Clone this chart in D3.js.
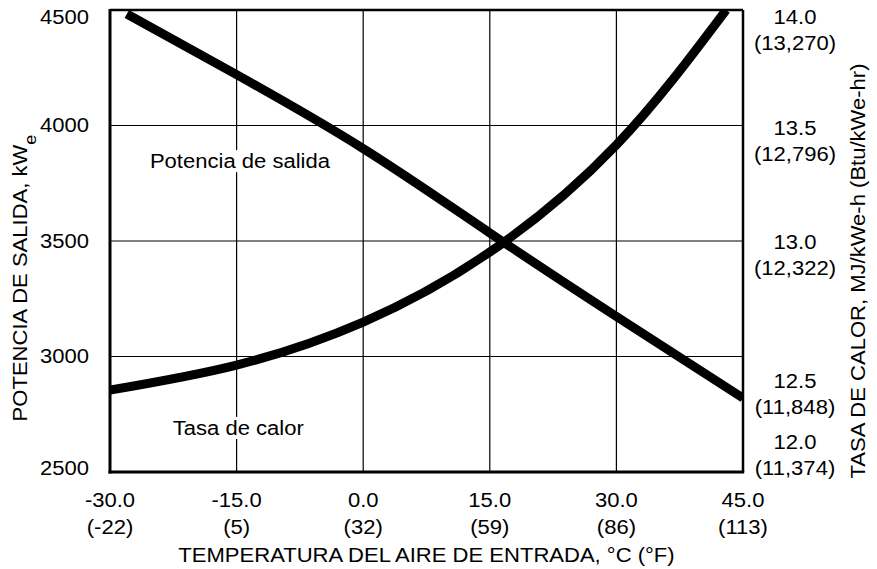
<!DOCTYPE html>
<html>
<head>
<meta charset="utf-8">
<script src="https://cdn.jsdelivr.net/npm/d3@7"></script>
<style>
  body { margin: 0; background: #fff; }
  svg text { font-family: "Liberation Sans", Arial, Helvetica, sans-serif; fill: #000; }
</style>
</head>
<body>
<div id="chart"></div>
<script>
// data
var tempC = [-28, -15, 0, 15, 30, 45];
var power = [4483, 4220, 3900, 3535, 3173, 2820];

var tempHR = [-30, -15, 0, 15, 30, 43];
var heatRate = [12.355, 12.463, 12.649, 12.952, 13.416, 14.0];

var xTicks = [-30, -15, 0, 15, 30, 45];
var xTicksF = ["(-22)", "(5)", "(32)", "(59)", "(86)", "(113)"];
var leftTicks = [2500, 3000, 3500, 4000, 4500];
var rightTicks = [12.0, 12.5, 13.0, 13.5, 14.0];
var rightTicksBtu = ["(11,374)", "(11,848)", "(12,322)", "(12,796)", "(13,270)"];

// the lettering in the picture is a bit wider than Liberation Sans
var STRETCH = 1.13;
function widen(sel){
    sel.each(function(){
        var w = this.getComputedTextLength();
        d3.select(this).attr("textLength", w * STRETCH).attr("lengthAdjust", "spacingAndGlyphs");
    });
}

function drawChart(){
    var margin = {top: 10, right: 134, bottom: 97, left: 110},
        width = 877 - margin.left - margin.right,
        height = 569 - margin.top - margin.bottom;

    var x = d3.scaleLinear().domain([-30, 45]).range([0, width]);
    var y = d3.scaleLinear().domain([2500, 4500]).range([height, 0]);
    var y2 = d3.scaleLinear().domain([12, 14]).range([height, 0]);

    var svg = d3.select("#chart").append("svg")
        .attr("width", 877)
        .attr("height", 569)
      .append("g")
        .attr("transform", "translate(" + margin.left + "," + margin.top + ")");

    svg.append("clipPath").attr("id", "clip")
      .append("rect").attr("x", 0).attr("y", 0).attr("width", width).attr("height", height);

    // grid
    svg.append("g").selectAll("line")
        .data(xTicks.slice(1, -1))
        .enter().append("line")
        .attr("x1", function(d){ return x(d); })
        .attr("x2", function(d){ return x(d); })
        .attr("y1", 0).attr("y2", height)
        .attr("stroke", "#000").attr("stroke-width", 1.2);
    svg.append("g").selectAll("line")
        .data(leftTicks.slice(1, -1))
        .enter().append("line")
        .attr("y1", function(d){ return y(d); })
        .attr("y2", function(d){ return y(d); })
        .attr("x1", 0).attr("x2", width)
        .attr("stroke", "#000").attr("stroke-width", 1.2);

    // in-chart labels with white backing
    function boxLabel(txt, cx, cy){
        var t = svg.append("text").attr("x", cx).attr("y", cy)
            .attr("text-anchor", "middle").attr("dy", "0.35em")
            .style("font-size", "19.5px").text(txt);
        widen(t);
        var b = t.node().getBBox();
        svg.insert("rect", function(){ return t.node(); })
            .attr("x", b.x - 4).attr("y", b.y).attr("width", b.width + 8).attr("height", b.height)
            .attr("fill", "#fff");
    }
    boxLabel("Potencia de salida", x(-14.6), y(3845));
    boxLabel("Tasa de calor", x(-14.8), y(2690));

    // curves
    var lineP = d3.line()
        .x(function(d, i){ return x(tempC[i]); })
        .y(function(d){ return y(d); })
        .curve(d3.curveNatural);
    var lineH = d3.line()
        .x(function(d, i){ return x(tempHR[i]); })
        .y(function(d){ return y2(d); })
        .curve(d3.curveNatural);

    var curves = svg.append("g").attr("clip-path", "url(#clip)");
    curves.append("path")
        .attr("d", lineP(power))
        .attr("fill", "none").attr("stroke", "#000").attr("stroke-width", 9);
    curves.append("path")
        .attr("d", lineH(heatRate))
        .attr("fill", "none").attr("stroke", "#000").attr("stroke-width", 9);

    // frame
    svg.append("line").attr("x1", 0).attr("x2", width).attr("y1", 0).attr("y2", 0)
        .attr("stroke", "#000").attr("stroke-width", 2.5);
    svg.append("line").attr("x1", width).attr("x2", width).attr("y1", 0).attr("y2", height)
        .attr("stroke", "#000").attr("stroke-width", 2.5);
    svg.append("line").attr("x1", 0).attr("x2", 0).attr("y1", -1).attr("y2", height + 1.5)
        .attr("stroke", "#000").attr("stroke-width", 3);
    svg.append("line").attr("x1", -1.5).attr("x2", width + 1.2).attr("y1", height).attr("y2", height)
        .attr("stroke", "#000").attr("stroke-width", 3);

    // left tick labels
    svg.append("g").selectAll("text")
        .data(leftTicks)
        .enter().append("text")
        .attr("x", -21)
        .attr("y", function(d){ return Math.min(Math.max(y(d), 7), height - 4); })
        .attr("dy", "0.35em")
        .attr("text-anchor", "end")
        .style("font-size", "19.5px")
        .text(function(d){ return d; })
        .call(widen);

    // right tick labels (two lines)
    var rightDy = [-30, 25, 1, 3, 7];
    var rt = svg.append("g").selectAll("g")
        .data(rightTicks)
        .enter().append("g")
        .attr("transform", function(d, i){ return "translate(" + (width + 52) + "," + (y2(d) + rightDy[i]) + ")"; });
    rt.append("text").attr("text-anchor", "middle").attr("dy", "0.35em")
        .style("font-size", "19.5px")
        .text(function(d){ return d.toFixed(1); })
        .call(widen);
    rt.append("text").attr("text-anchor", "middle").attr("y", 26).attr("dy", "0.35em")
        .style("font-size", "19.5px")
        .text(function(d, i){ return rightTicksBtu[i]; })
        .call(widen);

    // bottom tick labels
    var bt = svg.append("g").selectAll("g")
        .data(xTicks)
        .enter().append("g")
        .attr("transform", function(d){ return "translate(" + x(d) + "," + (height + 28) + ")"; });
    bt.append("text").attr("text-anchor", "middle").attr("dy", "0.35em")
        .style("font-size", "19.5px")
        .text(function(d){ return d.toFixed(1); })
        .call(widen);
    bt.append("text").attr("text-anchor", "middle").attr("y", 27).attr("dy", "0.35em")
        .style("font-size", "19.5px")
        .text(function(d, i){ return xTicksF[i]; })
        .call(widen);

    // axis titles
    svg.append("text")
        .attr("x", width / 2).attr("y", height + 83)
        .attr("dy", "0.35em")
        .attr("text-anchor", "middle")
        .style("font-size", "19.5px")
        .text("TEMPERATURA DEL AIRE DE ENTRADA, °C (°F)")
        .call(widen);

    var lt = svg.append("text")
        .attr("transform", "translate(" + (20 - margin.left) + "," + 268 + ") rotate(-90)")
        .attr("dy", "0.35em")
        .attr("text-anchor", "middle")
        .style("font-size", "19.5px");
    lt.append("tspan").text("POTENCIA DE SALIDA, kW");
    lt.append("tspan").attr("baseline-shift", "sub").style("font-size", "16px").text("e");
    widen(lt);

    svg.append("text")
        .attr("transform", "translate(" + (width + 115) + "," + 261 + ") rotate(-90)")
        .attr("dy", "0.35em")
        .attr("text-anchor", "middle")
        .style("font-size", "19.5px")
        .text("TASA DE CALOR, MJ/kWe-h (Btu/kWe-hr)")
        .call(widen);
}
drawChart();
</script>
</body>
</html>
